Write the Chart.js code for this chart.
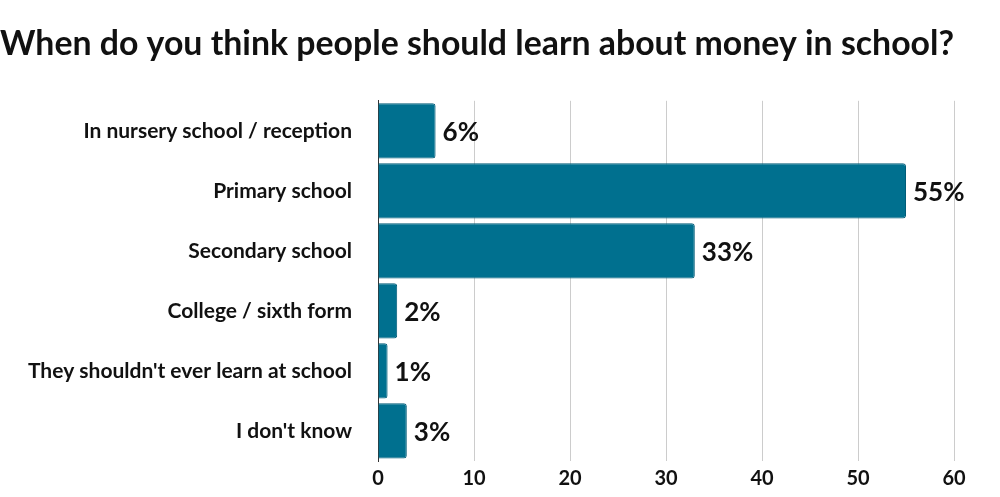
<!DOCTYPE html>
<html><head><meta charset="utf-8">
<script src="https://cdn.jsdelivr.net/npm/chart.js@4/dist/chart.umd.min.js"></script>
<style>html,body{margin:0;padding:0;background:#fff}#wrap{width:1000px;height:497px}</style>
</head><body><div id="wrap"><canvas id="c"></canvas></div>
<script>
const categories = ["In nursery school / reception","Primary school","Secondary school","College / sixth form","They shouldn't ever learn at school","I don't know"];
const values = [6,55,33,2,1,3];
const xTicks = [0,10,20,30,40,50,60];
const labelPlugin = {
  id:'lbl',
  afterDatasetsDraw(chart){
    const ctx=chart.ctx; const meta=chart.getDatasetMeta(0);
    ctx.save(); ctx.font='bold 26px Lato'; ctx.fillStyle='#111'; ctx.textBaseline='middle';
    meta.data.forEach((b,i)=>{ ctx.fillText(values[i]+'%', b.x+7, b.y+2); });
    ctx.restore();
  }
};
new Chart(document.getElementById('c'),{
  type:'bar',
  data:{labels:categories,datasets:[{data:values,backgroundColor:'#00708f',borderColor:'#005c78',borderWidth:1,borderRadius:3,borderSkipped:'start',barPercentage:0.92,categoryPercentage:1}]},
  options:{
    indexAxis:'y',responsive:true,maintainAspectRatio:false,animation:false,
    layout:{padding:{top:4,right:46,left:0,bottom:0}},
    plugins:{legend:{display:false},tooltip:{enabled:false},
      title:{display:true,text:'When do you think people should learn about money in school?',font:{family:'Lato',size:34,weight:'bold'},color:'#111',padding:{top:20,bottom:36}}},
    scales:{
      x:{min:0,max:60,afterBuildTicks:a=>{a.ticks=xTicks.map(v=>({value:v}));},
        grid:{color:'#cccccc',drawTicks:false},border:{display:false},
        ticks:{font:{family:'Lato',size:20,weight:'bold'},color:'#111',padding:6}},
      y:{grid:{display:false},border:{display:true,color:'#333'},afterFit:a=>{a.width=378;},
        ticks:{font:{family:'Lato',size:21,weight:'bold'},color:'#111',padding:18}}
    }
  },
  plugins:[labelPlugin]
});
</script></body></html>
